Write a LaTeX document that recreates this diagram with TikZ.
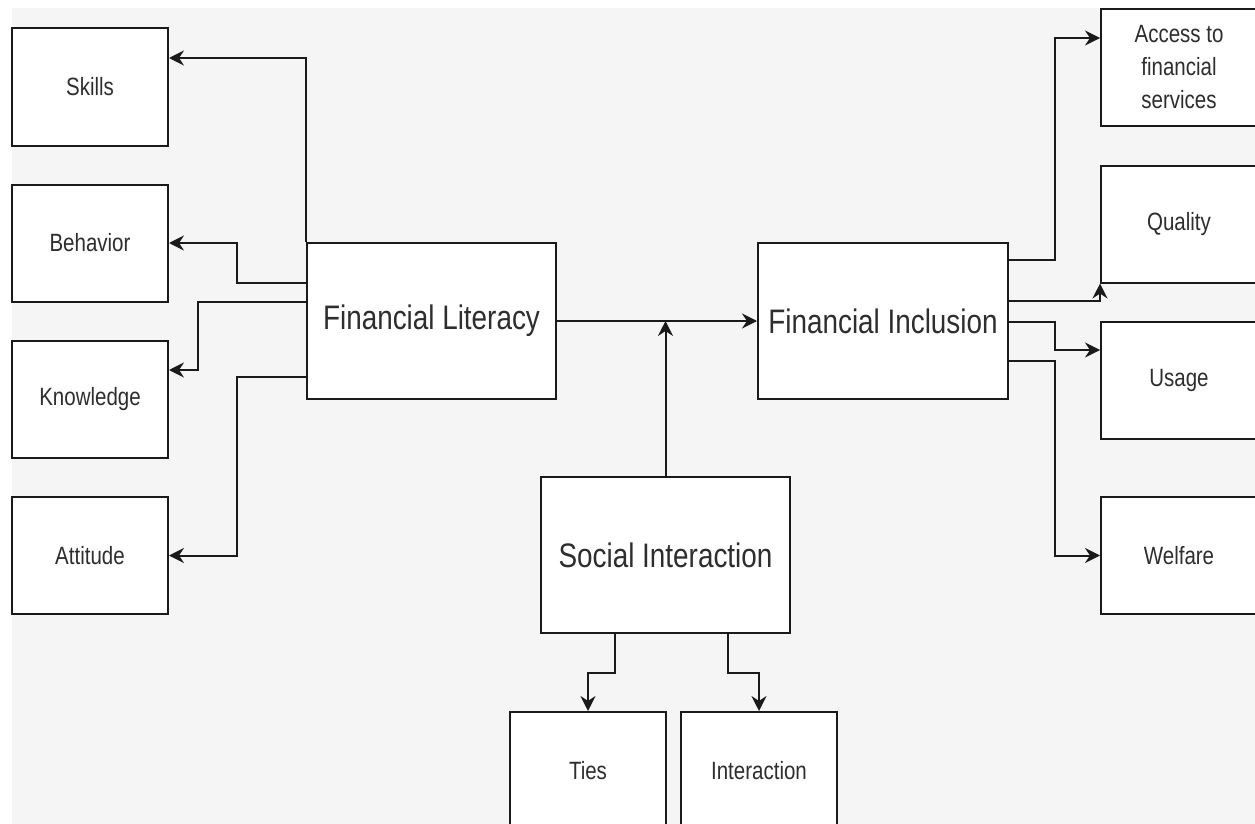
\documentclass[tikz,border=0pt]{standalone}
\usepackage{fontspec}
\setmainfont{Liberation Sans}[FakeStretch=0.82]
\usetikzlibrary{arrows.meta}
\definecolor{bggray}{HTML}{F5F5F5}
\definecolor{txtgray}{HTML}{2E2E2E}
\definecolor{linecol}{HTML}{1A1A1A}
\tikzset{
  box/.style={draw=linecol, line width=2pt, fill=white, rectangle, inner sep=0pt,
    text=txtgray, align=center, font=\fontsize{25}{33}\selectfont},
  smallbox/.style={box, minimum width=156pt, minimum height=117pt},
  bigbox/.style={box, minimum width=249pt, minimum height=156pt, font=\fontsize{34}{40}\selectfont},
  conn/.style={draw=linecol, line width=2pt, -{Stealth[length=15pt,width=15pt,inset=5pt]}}
}
\begin{document}
\begin{tikzpicture}[x=1pt,y=-1pt]
\useasboundingbox (0,0) rectangle (1255,824);
\fill[bggray] (12,8) rectangle (1255,824);
% left boxes
\node[smallbox] (skills) at (90,87) {Skills};
\node[smallbox] (behavior) at (90,243) {Behavior};
\node[smallbox] (knowledge) at (90,399.5) {Knowledge};
\node[smallbox] (attitude) at (90,555.5) {Attitude};
% main boxes
\node[bigbox] (fl) at (431.5,321) {Financial Literacy};
\node[bigbox, minimum width=250pt] (fi) at (883,321) {Financial Inclusion};
\node[bigbox] (si) at (665.5,555) {Social Interaction};
% bottom boxes
\node[smallbox] (ties) at (588,770.5) {Ties};
\node[smallbox] (inter) at (759,770.5) {Interaction};
% right boxes
\node[smallbox] (access) at (1179,67.5) {Access to\\financial\\services};
\node[smallbox] (quality) at (1179,224) {Quality};
\node[smallbox] (usage) at (1179,380) {Usage};
\node[smallbox] (welfare) at (1179,555.5) {Welfare};
% connectors left
\draw[conn] (fl.north west) |- ([yshift=29pt]skills.east);
\draw[conn] ([yshift=38pt]fl.west) -- ++(-69,0) |- (behavior.east);
\draw[conn] ([yshift=19pt]fl.west) -- ++(-108,0) |- ([yshift=29.5pt]knowledge.east);
\draw[conn] ([yshift=-56pt]fl.west) -- ++(-69,0) |- (attitude.east);
% center
\draw[conn] (fl.east) -- (fi.west);
\draw[conn] (si.north) -- (si.north |- fl.east);
\draw[conn] ([xshift=-50.5pt]si.south) -- ++(0,39) -| (ties.north);
\draw[conn] ([xshift=62.5pt]si.south) -- ++(0,39) -| (inter.north);
% connectors right
\draw[conn] ([yshift=61pt]fi.east) -- ++(46,0) |- ([yshift=29.5pt]access.west);
\draw[conn] ([yshift=20pt]fi.east) -| (quality.south west);
\draw[conn] ([yshift=-1pt]fi.east) -- ++(46,0) |- ([yshift=30pt]usage.west);
\draw[conn] ([yshift=-40pt]fi.east) -- ++(46,0) |- (welfare.west);
\end{tikzpicture}
\end{document}
